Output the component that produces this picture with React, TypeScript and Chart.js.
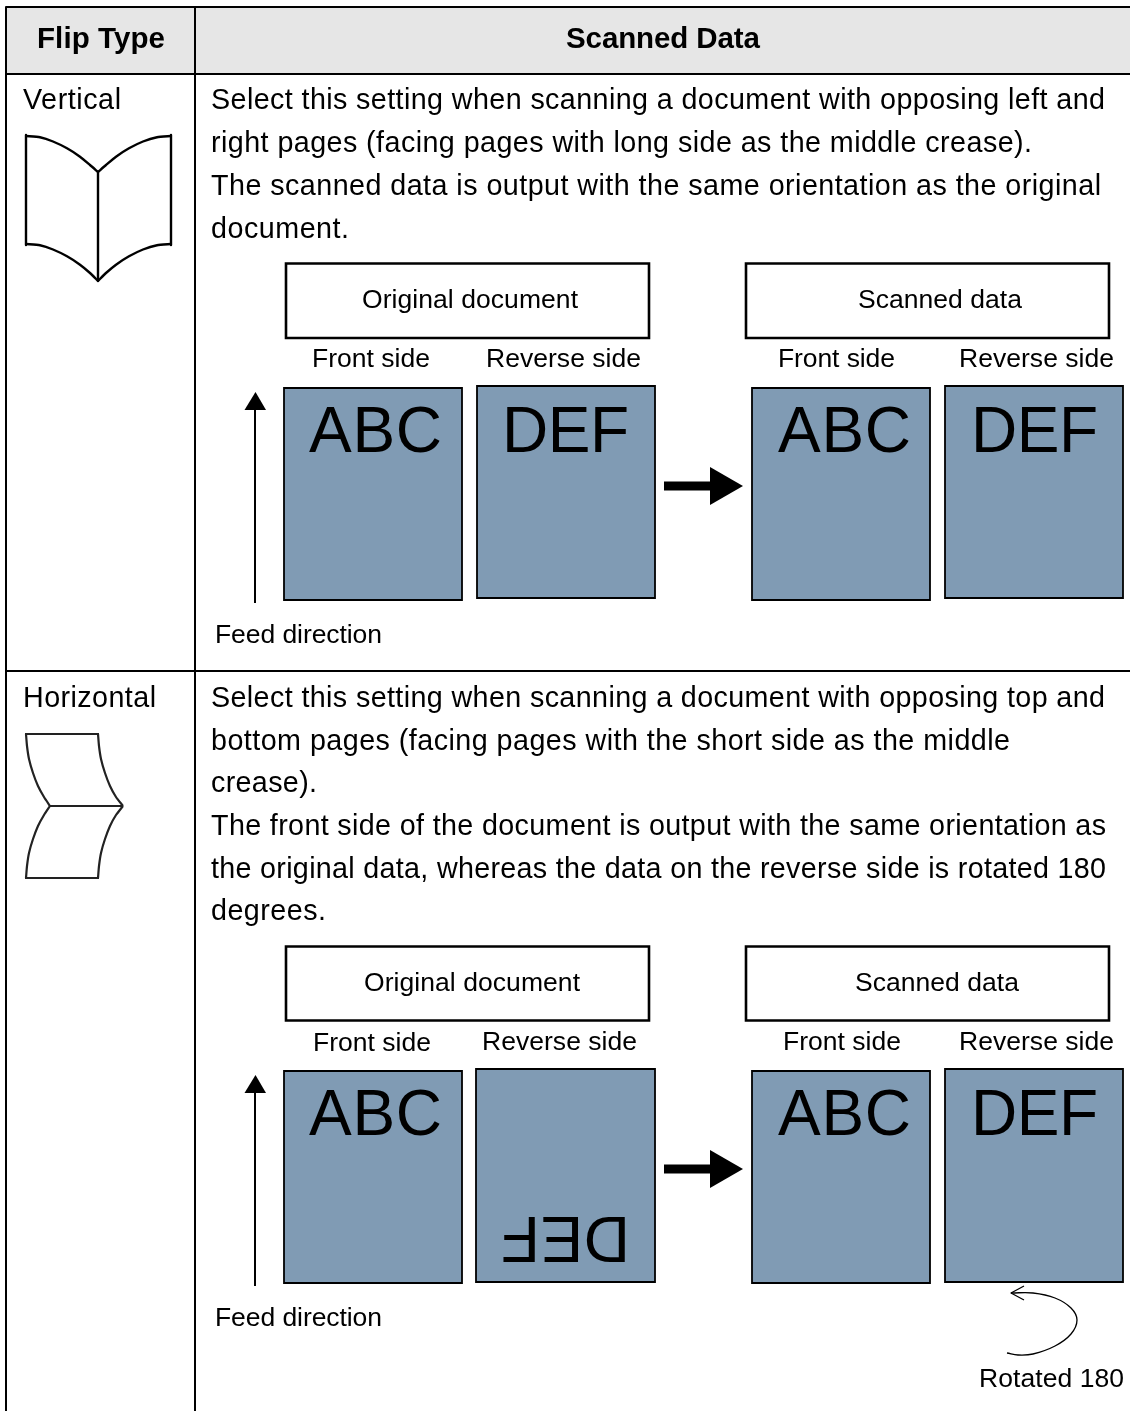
import React, { useEffect, useRef } from "react";
import { Chart, registerables } from "chart.js";

Chart.register(...registerables);

const W = 1130;
const H = 1411;
const FONT = '"Liberation Sans", Arial, sans-serif';

type P = [number, number];
type R = [number, number, number, number];

// ---- text content ----
const headers = ["Flip Type", "Scanned Data"];
const flipTypes = ["Vertical", "Horizontal"];
const verticalLines = [
  "Select this setting when scanning a document with opposing left and",
  "right pages (facing pages with long side as the middle crease).",
  "The scanned data is output with the same orientation as the original",
  "document.",
];
const horizontalLines = [
  "Select this setting when scanning a document with opposing top and",
  "bottom pages (facing pages with the short side as the middle",
  "crease).",
  "The front side of the document is output with the same orientation as",
  "the original data, whereas the data on the reverse side is rotated 180",
  "degrees.",
];

// ---- geometry, in page units ----
const grid: [P, P][] = [
  [[6, 7], [1130, 7]],
  [[5, 74], [1130, 74]],
  [[5, 671], [1130, 671]],
  [[6, 7], [6, 1411]],
  [[195, 7], [195, 1411]],
];
const headerBand: R = [6, 7, 1130, 74];
const titleBoxes: R[] = [
  [286, 263.5, 649, 338],
  [746, 263.5, 1109, 338],
  [286, 946.5, 649, 1020.5],
  [746, 946.5, 1109, 1020.5],
];
const pages: R[] = [
  [284, 388, 462, 600],
  [477, 386, 655, 598],
  [752, 388, 930, 600],
  [945, 386, 1123, 598],
  [284, 1071, 462, 1283],
  [476, 1069, 655, 1282],
  [752, 1071, 930, 1283],
  [945, 1069, 1123, 1282],
];
const feedArrowBottoms = [603, 1286];
const feedArrowTops = [392, 1075];
const bigArrowRows = [486, 1169];

const bookCurves: P[][] = [
  [[26, 136], [40, 137.3], [53, 141.5], [67, 148.3], [80, 156.7], [90, 165], [98, 172]],
  [[98, 172], [106, 165], [116, 156.7], [129, 148.3], [143, 141.5], [157, 137.3], [171, 136]],
  [[26, 244], [40, 245.3], [53, 249.5], [67, 256.3], [80, 264.7], [90, 273], [98, 281]],
  [[98, 281], [106, 273], [116, 264.7], [129, 256.3], [143, 249.5], [157, 245.3], [171, 244]],
];
const bookEdges: P[][] = [
  [[26, 135], [26, 245]],
  [[171, 135], [171, 245]],
  [[98, 172], [98, 281]],
];
const foldCurves: P[][] = [
  [[26, 734], [27, 746], [29, 759], [33, 773], [38, 786], [44, 797], [50, 806]],
  [[98, 734], [99, 746], [101, 759], [105, 773], [110, 786], [116, 797], [123, 806]],
  [[50, 806], [44, 815], [38, 826], [33, 839], [29, 853], [27, 866], [26, 878]],
  [[123, 806], [116, 815], [110, 826], [105, 839], [101, 853], [99, 866], [98, 878]],
];
const foldEdges: P[][] = [
  [[25, 734], [99, 734]],
  [[50, 806], [123, 806]],
  [[25, 878], [99, 878]],
];
const rotationCurve: P[] = [
  [1011, 1293], [1033, 1293], [1055, 1298], [1071, 1308], [1077, 1320],
  [1071, 1334], [1055, 1346], [1033, 1354], [1018, 1355], [1007, 1353],
];
const rotationHead: P[] = [[1024, 1286], [1011, 1293], [1024, 1300]];

// [text, left, right, baseline, size, weight]
type T = [string, number, number, number, number, string];
const texts: T[] = [
  [headers[0], 37, 165, 48, 29.5, "bold"],
  [headers[1], 566, 760, 48, 29.5, "bold"],
  [flipTypes[0], 23, 121, 109, 28.7, "normal"],
  [flipTypes[1], 23, 156, 707, 28.7, "normal"],
  [verticalLines[0], 211, 1105, 109, 28.7, "normal"],
  [verticalLines[1], 211, 1032, 152, 28.7, "normal"],
  [verticalLines[2], 211, 1101, 195, 28.7, "normal"],
  [verticalLines[3], 211, 349, 238, 28.7, "normal"],
  [horizontalLines[0], 211, 1105, 707, 28.7, "normal"],
  [horizontalLines[1], 211, 1010, 750, 28.7, "normal"],
  [horizontalLines[2], 211, 317, 792, 28.7, "normal"],
  [horizontalLines[3], 211, 1106, 835, 28.7, "normal"],
  [horizontalLines[4], 211, 1106, 878, 28.7, "normal"],
  [horizontalLines[5], 211, 326, 920, 28.7, "normal"],
  ["Original document", 362, 578, 308, 26.5, "normal"],
  ["Scanned data", 858, 1022, 308, 26.5, "normal"],
  ["Front side", 312, 430, 367, 26.5, "normal"],
  ["Reverse side", 486, 641, 367, 26.5, "normal"],
  ["Front side", 778, 895, 367, 26.5, "normal"],
  ["Reverse side", 959, 1114, 367, 26.5, "normal"],
  ["ABC", 309, 442, 452, 64, "normal"],
  ["DEF", 502, 629, 452, 64, "normal"],
  ["ABC", 778, 911, 452, 64, "normal"],
  ["DEF", 971, 1098, 452, 64, "normal"],
  ["Feed direction", 215, 382, 643, 26.5, "normal"],
  ["Original document", 364, 580, 991, 26.5, "normal"],
  ["Scanned data", 855, 1019, 991, 26.5, "normal"],
  ["Front side", 313, 431, 1051, 26.5, "normal"],
  ["Reverse side", 482, 637, 1050, 26.5, "normal"],
  ["Front side", 783, 901, 1050, 26.5, "normal"],
  ["Reverse side", 959, 1114, 1050, 26.5, "normal"],
  ["ABC", 309, 442, 1135, 64, "normal"],
  ["ABC", 778, 911, 1135, 64, "normal"],
  ["DEF", 971, 1098, 1135, 64, "normal"],
  ["Feed direction", 215, 382, 1326, 26.5, "normal"],
  ["Rotated 180", 979, 1124, 1387, 26.5, "normal"],
];
// upside-down DEF on the reverse side: [text, left, right, top, size]
const rotatedText: [string, number, number, number, number] = ["DEF", 501, 630, 1217, 64];

// ---- dataset helpers ----
const toPts = (ps: P[]) => ps.map(([x, y]) => ({ x, y }));
const rectPts = ([a, b, c, d]: R): P[] => [[a, b], [c, b], [c, d], [a, d], [a, b]];

function stroke(ps: P[], width: number, color = "#000", tension = 0, order = 1) {
  return {
    data: toPts(ps),
    showLine: true,
    borderColor: color,
    borderWidth: width,
    borderCapStyle: "butt",
    borderJoinStyle: "round",
    tension,
    pointRadius: 0,
    fill: false,
    clip: false,
    order,
  };
}
function solid(ps: P[], fillColor: string, borderColor: string, width: number, order = 1) {
  return {
    data: toPts(ps),
    showLine: true,
    borderColor,
    borderWidth: width,
    borderCapStyle: "square",
    borderJoinStyle: "miter",
    backgroundColor: fillColor,
    pointRadius: 0,
    tension: 0,
    fill: "shape",
    clip: false,
    order,
  };
}

function buildDatasets() {
  const out: any[] = [];
  out.push(solid(rectPts(headerBand), "#e6e6e6", "#e6e6e6", 0, 9));
  grid.forEach((g) => out.push(stroke(g, 2, "#000", 0, 5)));
  titleBoxes.forEach((r) => out.push(solid(rectPts(r), "#ffffff", "#000", 2.6, 4)));
  pages.forEach((r) => out.push(solid(rectPts(r), "#809bb4", "#000", 1.8, 4)));
  feedArrowBottoms.forEach((b, i) => {
    const t = feedArrowTops[i];
    out.push(stroke([[255, b], [255, t + 10]], 2, "#000", 0, 3));
    out.push(solid([[244.5, t + 18], [255.5, t], [266, t + 18], [244.5, t + 18]], "#000", "#000", 0, 3));
  });
  bigArrowRows.forEach((y) => {
    out.push(stroke([[664, y], [712, y]], 9, "#000", 0, 3));
    out.push(solid([[710, y - 19], [743, y], [710, y + 19], [710, y - 19]], "#000", "#000", 0, 3));
  });
  bookCurves.forEach((c) => out.push(stroke(c, 2.4, "#000", 0.2, 3)));
  bookEdges.forEach((c) => out.push(stroke(c, 2.4, "#000", 0, 3)));
  foldCurves.forEach((c) => out.push(stroke(c, 2.2, "#222", 0.2, 3)));
  foldEdges.forEach((c) => out.push(stroke(c, 2.2, "#222", 0, 3)));
  out.push(stroke(rotationCurve, 1.3, "#000", 0.4, 3));
  out.push(stroke(rotationHead, 1.3, "#000", 0, 3));
  return out;
}

const textPlugin = {
  id: "pageText",
  afterDatasetsDraw(chart: any) {
    const { ctx, scales } = chart;
    const sx = scales.x;
    const sy = scales.y;
    const fit = (s: string, width: number) => {
      (ctx as any).letterSpacing = "0px";
      const w = ctx.measureText(s).width;
      return (width - w) / Math.max(1, s.length - 1);
    };
    ctx.save();
    ctx.fillStyle = "#000";
    ctx.textAlign = "left";
    ctx.textBaseline = "alphabetic";
    for (const [s, l, r, b, size, weight] of texts) {
      ctx.font = `${weight} ${size}px ${FONT}`;
      const px1 = sx.getPixelForValue(l);
      const px2 = sx.getPixelForValue(r);
      const sp = fit(s, px2 - px1);
      (ctx as any).letterSpacing = `${sp}px`;
      ctx.fillText(s, px1, sy.getPixelForValue(b));
    }
    const [s, l, r, top, size] = rotatedText;
    ctx.font = `normal ${size}px ${FONT}`;
    const sp = fit(s, r - l);
    (ctx as any).letterSpacing = `${sp}px`;
    ctx.translate(sx.getPixelForValue(r), sy.getPixelForValue(top));
    ctx.rotate(Math.PI);
    ctx.fillText(s, 0, 0);
    ctx.restore();
  },
};

export default function App() {
  const ref = useRef<HTMLCanvasElement>(null);
  useEffect(() => {
    if (!ref.current) return;
    const chart = new Chart(ref.current, {
      type: "scatter",
      data: { datasets: buildDatasets() },
      options: {
        animation: false,
        responsive: false,
        devicePixelRatio: 1,
        events: [],
        layout: { padding: 0 },
        plugins: { legend: { display: false }, tooltip: { enabled: false }, title: { display: false } },
        scales: {
          x: { type: "linear", min: 0, max: W, display: false },
          y: { type: "linear", min: 0, max: H, reverse: true, display: false },
        },
      },
      plugins: [textPlugin],
    } as any);
    return () => chart.destroy();
  }, []);
  return (
    <canvas
      ref={ref}
      width={W}
      height={H}
      style={{ position: "absolute", left: 0, top: 0, display: "block", background: "#fff" }}
    />
  );
}
